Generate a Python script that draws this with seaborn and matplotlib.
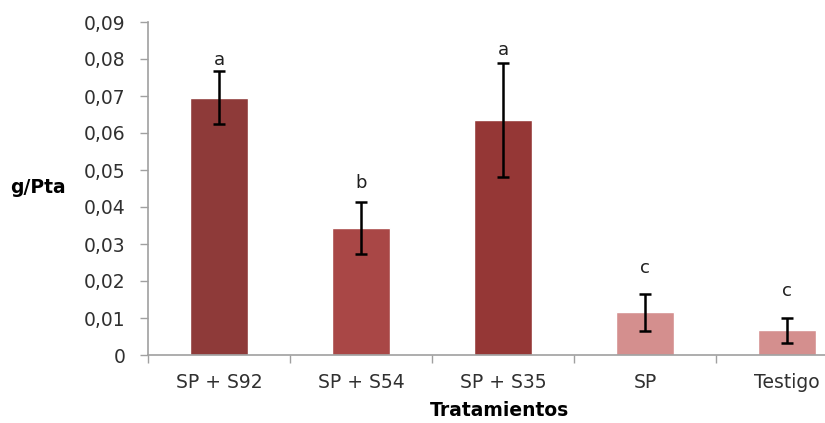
import matplotlib
matplotlib.use("Agg")
import matplotlib.pyplot as plt
import seaborn as sns
import pandas as pd
import numpy as np
from matplotlib.ticker import FixedLocator, FuncFormatter

# Datos
tratamientos = ["SP + S92", "SP + S54", "SP + S35", "SP", "Testigo"]
peso = [0.0695, 0.0344, 0.0634, 0.0116, 0.0067]
error = [0.0072, 0.0070, 0.0154, 0.0050, 0.0034]
letras = ["a", "b", "a", "c", "c"]
colores = ["#8E3A39", "#A94746", "#953736", "#D48F8E", "#D48F8E"]

# Separación de cada letra sobre su barra de error
sep_letra = [0.0030, 0.0050, 0.0036, 0.0068, 0.0071]

sns.set_theme(style="white")
plt.rcParams["font.family"] = ["DejaVu Sans"]

fig = plt.figure(figsize=(8.25, 4.23), dpi=100)
ax = fig.add_axes([148 / 825, 68 / 423, 710 / 825, 333 / 423])

df = pd.DataFrame({"Tratamientos": tratamientos, "peso": peso})
sns.barplot(data=df, x="Tratamientos", y="peso", hue="Tratamientos",
            palette=colores, width=0.41, legend=False, ax=ax,
            saturation=1, errorbar=None)

x = np.arange(len(tratamientos))
ax.errorbar(x, peso, yerr=error, fmt="none", ecolor="black",
            elinewidth=1.8, capsize=4.5, capthick=1.8)

for xi, v, e, l, s in zip(x, peso, error, letras, sep_letra):
    ax.text(xi, v + e + s, l, ha="center", va="center",
            fontsize=13, color="#202020")

ax.set_xlim(-0.5, 4.5)
ax.set_ylim(0, 0.09)
ax.set_yticks(np.arange(0, 0.0901, 0.01))
ax.yaxis.set_major_formatter(FuncFormatter(
    lambda v, p: "0" if abs(v) < 1e-9 else f"{v:.2f}".replace(".", ",")))

# Marcas del eje x entre categorías
ax.set_xticks(x)
ax.xaxis.set_minor_locator(FixedLocator(np.arange(-0.5, 5, 1.0)))
ax.tick_params(axis="x", which="major", length=0, pad=13,
               labelsize=13.5, labelcolor="#303030")
ax.tick_params(axis="x", which="minor", length=6, width=1,
               color="#A0A0A0", direction="out", bottom=True)
ax.tick_params(axis="y", which="major", length=6, width=1,
               color="#A0A0A0", direction="out", left=True, pad=10,
               labelsize=13.5, labelcolor="#303030")

for s in ["top", "right"]:
    ax.spines[s].set_visible(False)
for s in ["left", "bottom"]:
    ax.spines[s].set_color("#A0A0A0")
    ax.spines[s].set_linewidth(1.2)

ax.set_xlabel("")
ax.set_ylabel("")
fig.text(38 / 825, 1 - 187 / 423, "g/Pta", ha="center", va="center",
         fontsize=13.5, fontweight="bold", color="black")
fig.text(500 / 825, 1 - 410 / 423, "Tratamientos", ha="center",
         va="center", fontsize=13.5, fontweight="bold", color="black")

fig.savefig("out.png", dpi=100)
